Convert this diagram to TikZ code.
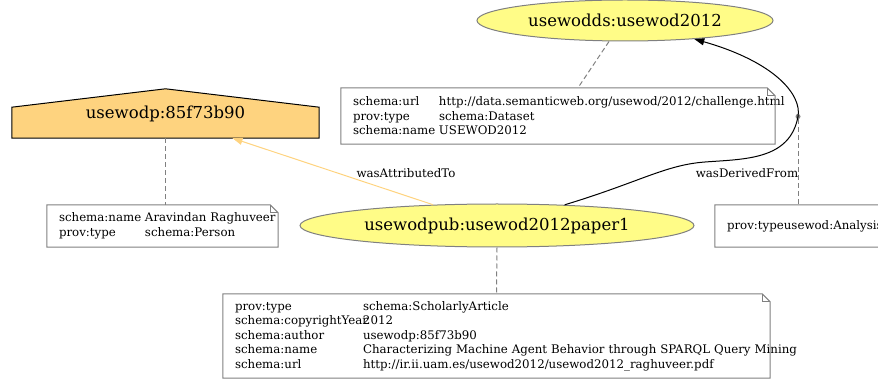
\documentclass[tikz,border=0pt]{standalone}
\usepackage{fontspec}
\setmainfont{DejaVu Serif}
\usetikzlibrary{shapes.geometric,arrows.meta,backgrounds}
\definecolor{entityfill}{HTML}{FFFC87}
\definecolor{agentfill}{HTML}{FED37F}
\definecolor{strokegray}{HTML}{808080}
\tikzset{
  entity/.style={ellipse,draw=strokegray,fill=entityfill,line width=1pt,inner sep=0pt,font=\fontsize{16.5}{19}\selectfont},
  agent/.style={rectangle,draw=none,inner sep=0pt,font=\fontsize{16.5}{19}\selectfont},
  notebox/.style={rectangle,draw=none,inner xsep=12pt,inner ysep=0pt,align=left,font=\fontsize{11.8}{14.5}\selectfont},
  noteline/.style={draw=strokegray,line width=1pt},
  annolink/.style={draw=strokegray,line width=1pt,dash pattern=on 5pt off 3pt},
  edgelabel/.style={inner sep=0pt,font=\fontsize{11.8}{14}\selectfont},
  attributed/.style={draw=agentfill,line width=1pt,-{Triangle[length=10pt,width=7pt,fill=agentfill]}},
  derived/.style={draw=black,line width=1pt,-{Triangle[length=10pt,width=7pt]}},
  dotnode/.style={circle,fill=strokegray,inner sep=0pt,minimum size=5pt}
}
\newcommand\foldnote[1]{%
  \draw[noteline] (#1.south west) -- (#1.north west) -- ([xshift=-8pt]#1.north east)
    -- ([yshift=-8pt]#1.north east) -- (#1.south east) -- cycle;
  \draw[noteline] ([xshift=-8pt]#1.north east) |- ([yshift=-8pt]#1.north east);}
\newcommand\kv[3]{\makebox[#1][l]{#2}\mbox{#3}}
\begin{document}
\begin{tikzpicture}[x=1pt,y=-1pt]
\useasboundingbox (0,0) rectangle (878,379);
\clip (0,0) rectangle (878,379);

% entities
\node[entity,minimum width=296pt,minimum height=41pt] (usewodds) at (625,20.5) {usewodds:usewod2012};
\node[entity,minimum width=394pt,minimum height=43pt] (paper1) at (497,225.5) {usewodpub:usewod2012paper1};

% agent (house shape)
\node[agent,minimum width=307pt,minimum height=49pt] (usewodp) at (165.5,113.5) {usewodp:85f73b90};
\begin{scope}[on background layer]
  \draw[fill=agentfill,draw=black,line width=1pt]
    (usewodp.south west) -- ([yshift=31pt]usewodp.south west) -- (usewodp.north)
    -- ([yshift=31pt]usewodp.south east) -- (usewodp.south east) -- cycle;
\end{scope}

% attribute notes
\node[notebox,text width=410pt,minimum height=56pt] (dsnote) at (558,116)
  {\kv{86pt}{schema:url}{http://data.semanticweb.org/usewod/2012/challenge.html}\\
   \kv{86pt}{prov:type}{schema:Dataset}\\
   \kv{86pt}{schema:name}{USEWOD2012}};
\foldnote{dsnote}

\node[notebox,text width=207pt,minimum height=42pt] (personnote) at (162.5,226)
  {\kv{86pt}{schema:name}{Aravindan Raghuveer}\\
   \kv{86pt}{prov:type}{schema:Person}};
\foldnote{personnote}

\node[notebox,text width=523pt,minimum height=84pt] (articlenote) at (496.5,336)
  {\kv{128pt}{prov:type}{schema:ScholarlyArticle}\\
   \kv{128pt}{schema:copyrightYear}{2012}\\
   \kv{128pt}{schema:author}{usewodp:85f73b90}\\
   \kv{128pt}{schema:name}{Characterizing Machine Agent Behavior through SPARQL Query Mining}\\
   \kv{128pt}{schema:url}{http://ir.ii.uam.es/usewod2012/usewod2012\_raghuveer.pdf}};
\foldnote{articlenote}

\node[notebox,text width=196pt,minimum height=42pt] (analysisnote) at (825,226)
  {\mbox{prov:typeusewod:Analysis}};
\foldnote{analysisnote}

% dashed annotation links
\draw[annolink] ([xshift=-16pt]usewodds.south) -- ([xshift=20pt]dsnote.north);
\draw[annolink] (usewodp.south) -- (usewodp.south |- personnote.north);
\draw[annolink] (paper1.south) -- (articlenote.north);

% relations
\draw[attributed] (paper1.162) -- ([xshift=67pt]usewodp.south);
\node[edgelabel] (attrlabel) at (406,173) {wasAttributedTo};

\node[dotnode] (derivdot) at (798,116.5) {};
\draw[derived] (paper1.17) .. controls (640,182) and (665,165) .. (705,162)
  .. controls (745,159) and (790,160) .. (derivdot.center)
  .. controls (802,95) and (775,62) .. (usewodds.-15);
\node[edgelabel] (derivlabel) at (747,173) {wasDerivedFrom};
\draw[annolink] (derivdot) -- (derivdot |- analysisnote.north);
\end{tikzpicture}
\end{document}
